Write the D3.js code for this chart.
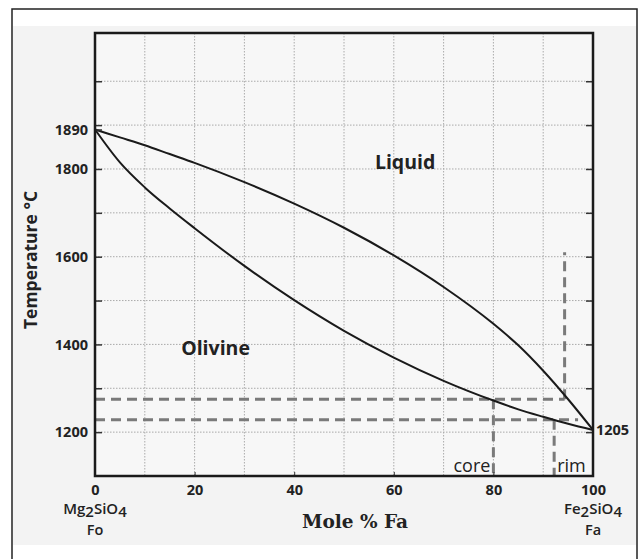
<!DOCTYPE html>
<html>
<head>
<meta charset="utf-8">
<script src="https://cdn.jsdelivr.net/npm/d3@7"></script>
<style>
  body { margin: 0; background: #fff; }
  svg { display: block; }
  .tick text { font-family: "Open Sans", sans-serif; font-weight: 700; font-size: 14.5px; fill: #222; }
</style>
</head>
<body>
<svg width="641" height="559"></svg>
<script>
// composition, mole % Fa
const molePctFa = [0, 5, 10, 15, 20, 30, 40, 50, 60, 70, 80, 85, 90, 95, 100];
// liquidus / solidus temperatures, deg C
const liquidus = [1890, 1872, 1854, 1834, 1814, 1770, 1721, 1666, 1603, 1531, 1447, 1398, 1340, 1275, 1205];
const solidus  = [1890, 1815, 1758, 1710, 1665, 1579, 1501, 1431, 1370, 1317, 1272, 1252, 1235, 1219, 1205];

const xTickLabels = [0, 20, 40, 60, 80, 100];
const yTickLabels = [1200, 1400, 1600, 1800, 1890];
const yGrid = [1200, 1300, 1400, 1500, 1600, 1700, 1800, 1900, 2000];
const xGrid = [10, 20, 30, 40, 50, 60, 70, 80, 90];

// cooling path guides: [x1, T1, x2, T2]
const guides = [
  [0, 1275, 94.3, 1275],
  [94.3, 1275, 94.3, 1610],
  [80, 1275, 80, 1100],
  [0, 1228, 97, 1228],
  [92.2, 1228, 92.2, 1100]
];

const svg = d3.select('svg');
const mLeft = 95, mTop = 33, w = 498, h = 443;

// frame + background
svg.append('rect').attr('x', 12).attr('y', 9).attr('width', 625).attr('height', 560)
   .attr('fill', '#fff').attr('stroke', '#222').attr('stroke-width', 1.5);
svg.append('rect').attr('x', 13).attr('y', 26).attr('width', 623).attr('height', 519)
   .attr('fill', '#f3f3f3');

const x = d3.scaleLinear().domain([0, 100]).range([mLeft, mLeft + w]);
const y = d3.scaleLinear().domain([1100, 2110]).range([mTop + h, mTop]);

const g = svg.append('g');
g.append('rect').attr('x', mLeft).attr('y', mTop).attr('width', w).attr('height', h).attr('fill', '#f7f7f7');

// grid
g.selectAll('.hg').data(yGrid).enter().append('line')
   .attr('x1', mLeft).attr('x2', mLeft + w)
   .attr('y1', d => y(d)).attr('y2', d => y(d))
   .attr('stroke', '#aaa').attr('stroke-width', 1).attr('stroke-dasharray', '1.5,1.5');
g.selectAll('.vg').data(xGrid).enter().append('line')
   .attr('y1', mTop).attr('y2', mTop + h)
   .attr('x1', d => x(d)).attr('x2', d => x(d))
   .attr('stroke', '#aaa').attr('stroke-width', 1).attr('stroke-dasharray', '1.5,1.5');

// dashed guides
g.selectAll('.guide').data(guides).enter().append('line')
   .attr('x1', d => x(d[0])).attr('y1', d => y(d[1]))
   .attr('x2', d => x(d[2])).attr('y2', d => y(d[3]))
   .attr('stroke', '#7a7a7a').attr('stroke-width', 3).attr('stroke-dasharray', '10,6');

// curves
const line = d3.line().x((d, i) => x(molePctFa[i])).y(d => y(d)).curve(d3.curveMonotoneX);
g.append('path').attr('d', line(liquidus)).attr('fill', 'none').attr('stroke', '#1a1a1a').attr('stroke-width', 2);
g.append('path').attr('d', line(solidus)).attr('fill', 'none').attr('stroke', '#1a1a1a').attr('stroke-width', 2);

// axes
const yAxis = svg.append('g').attr('transform', `translate(${mLeft},0)`)
   .call(d3.axisLeft(y).tickValues(yGrid.concat([1890])).tickSize(-7).tickPadding(7)
      .tickFormat(d => yTickLabels.includes(d) ? d : ''));
yAxis.select('.domain').remove();
yAxis.selectAll('.tick line').attr('stroke', '#333').attr('stroke-width', 1.5);

const yRight = svg.append('g').attr('transform', `translate(${mLeft + w},0)`)
   .call(d3.axisRight(y).tickValues(yGrid).tickSize(-7).tickFormat(''));
yRight.select('.domain').remove();
yRight.selectAll('.tick line').attr('stroke', '#333').attr('stroke-width', 1.5);

const xAxis = svg.append('g').attr('transform', `translate(0,${mTop + h})`)
   .call(d3.axisBottom(x).tickValues(xTickLabels).tickSize(-4).tickPadding(9));
xAxis.select('.domain').remove();
xAxis.selectAll('.tick line').attr('stroke', '#333');

svg.append('rect').attr('x', mLeft).attr('y', mTop).attr('width', w).attr('height', h)
   .attr('fill', 'none').attr('stroke', '#1a1a1a').attr('stroke-width', 2.5);

// text
const sans = '"Open Sans", sans-serif';
svg.append('text').attr('x', x(100) + 3).attr('y', y(1205) + 5)
   .attr('font-family', sans).attr('font-weight', 700).attr('font-size', 14.5).attr('fill', '#222').text('1205');

svg.append('text').attr('x', x(56.2)).attr('y', y(1800))
   .attr('font-family', sans).attr('font-weight', 700).attr('font-size', 19.5).attr('fill', '#222').text('Liquid');
svg.append('text').attr('x', x(17.3)).attr('y', y(1375))
   .attr('font-family', sans).attr('font-weight', 700).attr('font-size', 19.5).attr('fill', '#222').text('Olivine');

svg.append('text').attr('x', x(79.4)).attr('y', y(1108)).attr('text-anchor', 'end')
   .attr('font-family', sans).attr('font-size', 18).attr('fill', '#222').text('core');
svg.append('text').attr('x', x(92.8)).attr('y', y(1108))
   .attr('font-family', sans).attr('font-size', 18).attr('fill', '#222').text('rim');

svg.append('text').attr('transform', `translate(37,260) rotate(-90)`)
   .attr('text-anchor', 'middle')
   .attr('font-family', sans).attr('font-weight', 700).attr('font-size', 17.5).attr('fill', '#222')
   .text('Temperature °C');

svg.append('text').attr('x', 355).attr('y', 528).attr('text-anchor', 'middle')
   .attr('font-family', '"DejaVu Serif", serif').attr('font-weight', 700).attr('font-size', 18.5).attr('fill', '#222')
   .text('Mole % Fa');

function endMember(cx, a, b, c) {
  const t = svg.append('text').attr('x', cx).attr('y', 513.5).attr('text-anchor', 'middle')
     .attr('font-family', sans).attr('font-weight', 600).attr('font-size', 15).attr('fill', '#222');
  t.append('tspan').text(a);
  t.append('tspan').attr('baseline-shift', '-3').text(b);
  t.append('tspan').text('SiO');
  t.append('tspan').attr('baseline-shift', '-3').text('4');
  svg.append('text').attr('x', cx).attr('y', 535).attr('text-anchor', 'middle')
     .attr('font-family', sans).attr('font-weight', 600).attr('font-size', 14.5).attr('fill', '#222').text(c);
}
endMember(x(0), 'Mg', '2', 'Fo');
endMember(x(100), 'Fe', '2', 'Fa');
</script>
</body>
</html>
